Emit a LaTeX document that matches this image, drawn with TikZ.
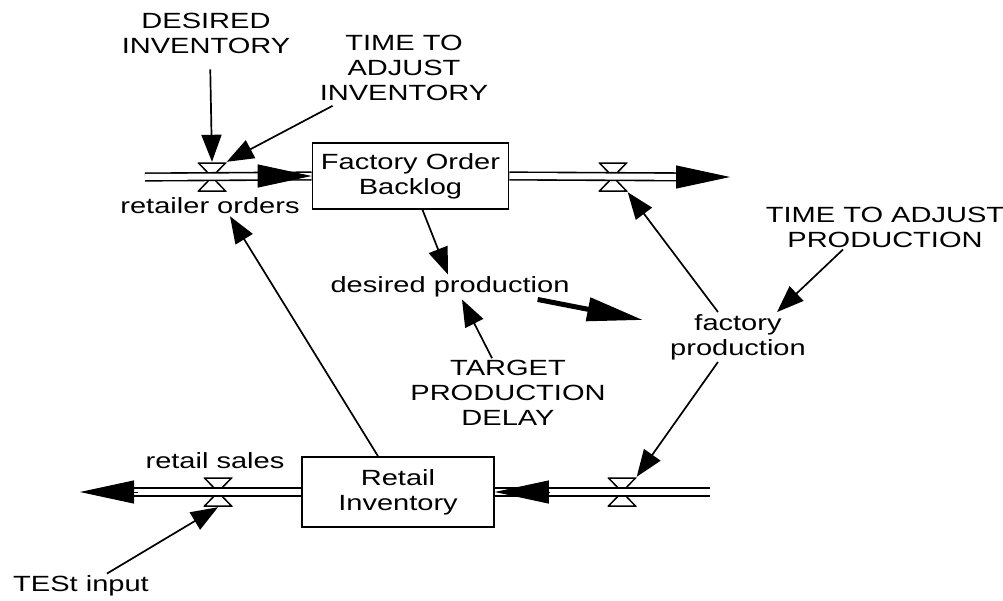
\documentclass[tikz,border=0pt]{standalone}
\usepackage{fontspec}
\setmainfont[FakeStretch=1.32]{Liberation Sans}
\usetikzlibrary{arrows.meta}

\begin{document}
\begin{tikzpicture}[x=1pt,y=-1pt,font=\fontsize{22}{25}\selectfont,
		every node/.style={inner sep=2pt,align=center},
		box/.style={draw,line width=1.6pt,minimum width=196pt,minimum height=66pt},
		valve/.style={minimum width=29pt,minimum height=30pt,inner sep=0pt,
			path picture={\draw[line width=1.5pt]
				([shift={(1pt,-1pt)}]path picture bounding box.north west) --
				([shift={(-1pt,-1pt)}]path picture bounding box.north east) --
				([shift={(1pt,1pt)}]path picture bounding box.south west) --
				([shift={(-1pt,1pt)}]path picture bounding box.south east) -- cycle;}},
		pipe/.style={double,double distance=6pt,line width=1.6pt},
		flowtip/.style={line width=1pt,-{Triangle[length=54pt,width=23pt]}},
		infl/.style={line width=1.7pt,-{Triangle[length=27pt,width=20pt]}},
		heavy/.style={line width=5pt,-{Triangle[length=56pt,width=23pt]}}]
		\useasboundingbox (0,0) rectangle (1003,600);

		\coordinate (src1) at (145,177);
		\node[valve] (v1) at (212,177) {};
		\node[box] (fob) at (410.5,176) {Factory Order\\Backlog};
		\node[valve] (v2) at (613,177) {};
		\coordinate (snk1) at (730,177);

		\coordinate (src2) at (710,492);
		\node[valve] (v3) at (622,492) {};
		\node[box,minimum width=192pt,minimum height=70pt] (ri) at (398,492) {Retail\\Inventory};
		\node[valve] (v4) at (218,492) {};
		\coordinate (snk2) at (80,492);

		\node (ro) at (210,206) {retailer orders};
		\node (di) at (206,33) {DESIRED\\INVENTORY};
		\node (tai) at (404,68) {TIME TO\\ADJUST\\INVENTORY};
		\node (dp) at (450,287) {desired production};
		\node (tpd) at (508,393) {TARGET\\PRODUCTION\\DELAY};
		\node (fp) at (738,337) {factory\\production};
		\node (tap) at (885,227) {TIME TO ADJUST\\PRODUCTION};
		\node (rs) at (215,461) {retail sales};
		\node (ti) at (81,586) {TESt input};

		\draw[pipe] (src1) -- (fob.west);
		\draw[flowtip] ([xshift=-54pt]fob.west) -- (fob.west);
		\draw[pipe] (fob.east) -- ([xshift=-26pt]snk1);
		\draw[flowtip] ([xshift=-54pt]snk1) -- (snk1);
		\draw[pipe] (src2) -- (ri.east);
		\draw[flowtip] ([xshift=55pt]ri.east) -- (ri.east);
		\draw[pipe] (ri.west) -- ([xshift=26pt]snk2);
		\draw[flowtip] ([xshift=58pt]snk2) -- (snk2);

		\draw[infl,shorten <=14pt] ([xshift=4pt]di.south) -- (v1.north);
		\draw[infl,shorten <=6pt] (tai) -- (v1.north east);
		\draw[infl] ([xshift=12pt]fob.south) -- ([xshift=-2pt]dp.north);
		\draw[infl] ([xshift=-16pt]tpd.north) -- ([xshift=12pt]dp.south);
		\draw[heavy] ([xshift=-34pt]dp.south east) -- ([shift={(-25pt,17pt)}]fp.west);
		\draw[infl] ([xshift=-42pt]tap.south) -- ([xshift=39pt]fp.north);
		\draw[infl] ([xshift=-20pt]fp.north) -- (v2.south east);
		\draw[infl] ([xshift=-20pt]fp.south) -- (v3.north east);
		\draw[infl] ([xshift=-20pt]ri.north) -- ([xshift=20pt]ro.south);
		\draw[infl] ([xshift=26pt]ti.north) -- (v4.south);
	\end{tikzpicture}
\end{document}
